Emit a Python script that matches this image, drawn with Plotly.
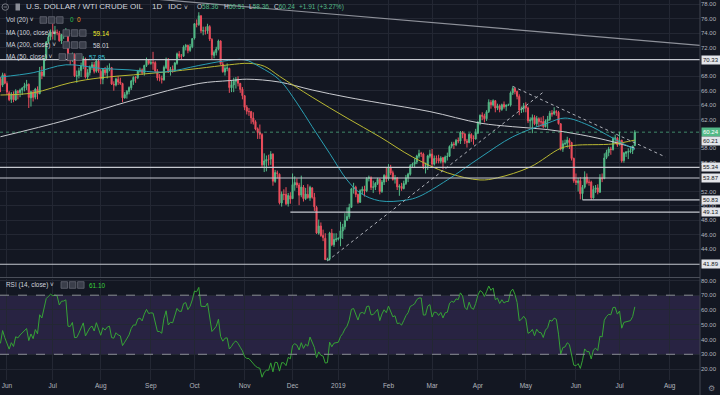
import plotly.graph_objects as go
import pandas as pd
import numpy as np

# ---------------- DATA ----------------
# daily bars, every weekday 2018-05-29 .. 2019-07-10
opens = [
    67.60, 66.80, 68.20,
    67.00, 65.70, 64.80, 65.50, 64.70, 65.90, 65.75, 66.10, 66.40, 66.65, 66.90, 65.00, 65.80, 65.10, 66.20, 65.60, 68.60, 68.10, 70.50, 72.80, 73.50,
    74.10, 73.90, 74.10, 74.00, 72.90, 73.80, 73.90, 74.00, 70.40, 70.30, 71.00, 68.00, 68.10, 68.80, 69.50, 70.40, 67.90, 68.50, 69.30, 69.60, 68.70, 70.10,
    68.70, 67.60, 68.90, 68.50, 69.00, 69.20, 66.90, 66.80, 67.60, 67.20, 67.00, 65.00, 65.50, 65.90, 66.40, 67.30, 67.90, 67.80, 68.70, 68.90, 68.50, 69.50, 70.20,
    69.80, 69.90, 69.90, 68.70, 67.80, 67.70, 67.50, 69.20, 70.40, 68.60, 69.00, 68.90, 69.80, 71.10, 70.80, 70.80, 72.10, 72.30, 71.60, 72.10,
    73.30, 75.30, 75.20, 76.40, 74.30, 74.30, 74.30, 74.90, 73.10, 70.90, 71.30, 71.80, 72.90, 69.70, 68.60, 69.10, 69.10, 66.40, 66.80, 67.30, 67.60, 67.00, 66.20,
    65.30, 63.70, 63.10, 63.10, 62.20, 61.70, 60.70, 60.20, 59.90, 55.70, 56.20, 56.50, 56.50, 57.20, 53.40, 54.60, 54.40, 50.40, 51.60, 51.60, 50.30, 51.40,
    51.00, 52.90, 53.20, 52.90, 51.50, 52.60, 51.00, 51.60, 51.10, 52.50, 51.20, 49.80, 46.20, 47.20, 45.90, 45.50, 42.50, 42.60, 46.20, 44.60, 45.30,
    45.40, 45.50, 46.50, 47.10, 48.00, 48.50, 49.80, 52.40, 52.60, 51.60, 50.50, 52.10, 52.30, 52.10, 53.80, 53.90, 52.60, 52.60, 53.10, 53.70, 52.00, 53.30, 54.20,
    53.80, 55.30, 54.60, 53.70, 53.90, 52.60, 52.70, 52.40, 53.10, 53.90, 54.40, 55.60, 55.80, 56.10, 56.90, 57.30, 57.20, 55.50, 55.50, 56.90,
    57.20, 55.80, 56.60, 56.60, 56.20, 56.70, 56.10, 56.80, 56.90, 58.30, 58.60, 58.50, 59.10, 59.00, 60.20, 60.00, 59.00, 58.80, 59.90, 59.40, 59.30,
    60.10, 61.60, 62.60, 62.50, 62.10, 63.10, 64.40, 64.00, 64.60, 63.60, 63.90, 63.40, 64.10, 63.80, 64.00, 64.00, 65.70, 66.30, 65.90, 65.20, 63.30, 63.50,
    63.90, 63.60, 61.80, 61.90, 62.30, 61.40, 62.10, 61.70, 61.70, 61.00, 61.80, 62.00, 62.90, 62.80, 63.10, 63.00, 61.40, 57.90, 58.60, 58.70, 59.10, 58.80, 56.60,
    53.50, 53.20, 53.50, 51.70, 52.60, 54.00, 53.30, 53.30, 51.10, 52.30, 52.50, 51.90, 53.90, 53.80, 56.70, 57.40, 57.90, 57.80, 59.40, 59.40,
    58.50, 59.10, 56.30, 57.30, 57.50, 57.50, 57.70, 58.36,
]
highs = [
    67.90, 68.50, 68.45,
    67.30, 65.95, 65.80, 65.90, 66.20, 66.10, 66.30, 66.50, 67.10, 67.50, 67.00, 66.00, 66.10, 66.40, 66.60, 69.30, 69.40, 70.60, 72.90, 74.00, 74.50,
    75.30, 75.00, 74.50, 74.30, 73.90, 74.40, 74.70, 74.10, 70.90, 71.30, 71.20, 68.80, 69.20, 69.90, 70.80, 70.60, 69.00, 69.50, 70.00, 70.00, 70.30, 70.40,
    69.00, 69.10, 69.30, 69.50, 69.80, 69.30, 67.30, 67.80, 68.00, 67.80, 67.10, 65.80, 66.10, 66.60, 67.50, 68.00, 68.00, 68.90, 69.20, 69.10, 69.60, 70.60, 70.30,
    70.30, 71.40, 70.10, 69.00, 68.30, 68.10, 69.50, 70.60, 70.50, 69.30, 69.50, 70.00, 71.30, 71.50, 71.10, 72.30, 72.50, 72.40, 72.50, 73.30,
    75.40, 75.90, 76.90, 76.50, 74.90, 74.90, 75.30, 75.10, 73.30, 71.60, 72.10, 73.10, 73.00, 70.00, 69.50, 69.80, 69.20, 67.40, 67.80, 67.90, 68.00, 67.10, 66.50,
    65.40, 64.00, 63.60, 63.20, 63.00, 61.90, 60.90, 61.30, 60.10, 57.30, 57.00, 57.10, 57.60, 57.30, 55.00, 54.90, 54.50, 52.00, 52.30, 52.60, 51.80, 51.90,
    54.50, 54.10, 53.80, 53.20, 54.20, 52.90, 52.50, 53.00, 52.80, 52.60, 51.80, 50.00, 48.10, 47.70, 46.70, 46.20, 42.80, 46.40, 46.80, 46.20, 46.20,
    45.60, 47.80, 47.50, 49.00, 49.80, 50.30, 52.50, 53.20, 52.80, 51.70, 52.30, 52.70, 52.80, 54.00, 54.20, 54.10, 53.50, 53.30, 53.90, 53.80, 53.60, 54.40, 55.40,
    55.80, 55.70, 54.90, 54.30, 54.00, 53.00, 53.20, 53.50, 54.30, 54.60, 55.80, 56.00, 56.60, 57.10, 57.80, 57.50, 57.40, 56.00, 57.10, 57.80,
    57.90, 57.00, 57.00, 57.10, 56.90, 56.80, 57.00, 57.40, 58.40, 58.90, 58.90, 59.30, 59.50, 60.40, 60.40, 60.10, 59.30, 60.10, 60.10, 59.80, 60.70,
    61.80, 62.70, 63.00, 62.80, 63.30, 64.80, 64.70, 64.80, 64.70, 64.20, 64.10, 64.20, 64.50, 64.10, 64.20, 65.90, 66.60, 66.40, 66.00, 65.50, 63.80, 64.30,
    64.40, 63.80, 62.30, 62.70, 62.60, 62.50, 62.30, 62.30, 62.50, 62.00, 62.50, 63.20, 63.30, 63.70, 63.30, 63.20, 61.50, 59.10, 59.20, 59.60, 59.40, 58.90, 56.70,
    54.50, 53.90, 54.00, 52.90, 54.80, 54.50, 53.70, 53.50, 52.80, 52.90, 53.00, 54.40, 54.50, 57.30, 57.80, 58.20, 58.20, 59.60, 59.90, 59.60,
    60.30, 59.20, 57.50, 57.60, 58.00, 58.20, 58.30, 60.51,
]
lows = [
    65.80, 66.50, 66.90,
    65.40, 64.55, 64.30, 64.40, 64.60, 64.80, 65.10, 65.40, 65.90, 66.10, 63.60, 63.80, 64.50, 64.80, 64.80, 65.50, 67.60, 67.90, 70.30, 72.50, 73.00,
    73.10, 73.00, 73.70, 72.80, 72.50, 73.20, 73.60, 70.10, 69.60, 70.00, 67.90, 67.10, 67.70, 67.90, 69.00, 67.70, 67.60, 68.10, 68.90, 68.40, 68.50, 68.50,
    66.90, 66.90, 68.10, 67.70, 68.70, 66.80, 66.00, 66.60, 66.80, 66.80, 64.40, 64.90, 64.90, 65.50, 66.10, 66.80, 67.10, 67.60, 68.50, 68.20, 68.10, 69.30, 69.60,
    69.60, 68.90, 68.50, 67.40, 67.30, 67.00, 67.40, 69.00, 68.50, 68.10, 68.50, 68.60, 69.60, 70.50, 70.30, 70.70, 71.60, 71.20, 71.40, 71.90,
    73.10, 74.80, 75.00, 74.00, 73.70, 73.80, 73.90, 72.90, 70.40, 70.50, 70.90, 71.60, 69.60, 68.50, 68.10, 68.70, 65.70, 65.80, 65.80, 66.30, 66.60, 65.70, 64.80,
    63.30, 62.70, 62.50, 61.40, 61.30, 60.50, 59.30, 59.30, 55.30, 54.70, 54.80, 55.60, 55.70, 52.80, 53.20, 53.80, 50.20, 49.90, 50.80, 50.10, 49.90, 50.30,
    51.00, 52.10, 52.50, 50.10, 51.20, 50.60, 50.80, 51.00, 50.70, 51.00, 49.30, 46.10, 46.00, 45.70, 45.10, 42.50, 42.36, 42.40, 44.40, 44.30, 45.00,
    45.20, 44.40, 45.40, 46.70, 47.90, 48.20, 49.70, 51.70, 51.20, 50.30, 50.40, 51.60, 51.30, 51.90, 53.40, 52.20, 51.80, 52.20, 52.90, 51.60, 51.80, 52.90, 53.30,
    53.50, 54.30, 53.50, 53.10, 52.20, 51.40, 52.10, 52.30, 52.90, 53.30, 54.20, 55.40, 55.40, 55.80, 56.60, 56.80, 55.10, 54.50, 55.00, 56.60,
    55.40, 55.60, 55.90, 55.90, 55.90, 55.10, 55.90, 56.30, 56.80, 58.00, 57.90, 58.30, 58.70, 58.60, 59.40, 58.60, 58.10, 58.70, 58.90, 58.50, 59.20,
    60.00, 61.20, 61.90, 61.60, 61.80, 62.90, 63.50, 63.80, 63.00, 63.30, 63.00, 63.20, 63.50, 63.20, 63.90, 63.80, 65.40, 65.50, 64.80, 62.60, 62.90, 63.00,
    63.00, 61.50, 60.90, 60.10, 61.20, 61.00, 60.90, 61.00, 60.80, 60.90, 60.70, 61.80, 62.40, 62.60, 62.50, 61.30, 57.70, 57.50, 58.40, 58.10, 57.90, 56.30, 53.20,
    52.90, 52.00, 50.90, 50.85, 52.40, 53.00, 52.80, 50.83, 51.00, 51.80, 51.60, 51.80, 53.30, 53.70, 56.50, 56.90, 57.10, 57.70, 58.80, 58.20,
    58.40, 56.00, 56.00, 56.80, 56.50, 57.30, 57.20, 58.36,
]
closes = [
    66.73, 68.21, 67.04,
    65.81, 64.75, 65.52, 64.73, 65.95, 65.74, 66.10, 66.36, 66.64, 66.89, 65.06, 65.85, 65.07, 66.22, 65.54, 68.58, 68.08, 70.53, 72.76, 73.45, 74.15,
    73.94, 74.14, 74.05, 72.94, 73.80, 73.85, 74.11, 70.38, 70.33, 71.01, 68.06, 68.08, 68.76, 69.46, 70.46, 67.89, 68.52, 69.30, 69.61, 68.69, 70.13, 68.76,
    67.66, 68.96, 68.49, 69.01, 69.17, 66.94, 66.81, 67.63, 67.20, 67.04, 65.01, 65.46, 65.91, 66.43, 67.35, 67.86, 67.83, 68.72, 68.87, 68.53, 69.51, 70.25, 69.80,
    69.90, 69.87, 68.72, 67.77, 67.75, 67.54, 69.25, 70.37, 68.59, 68.99, 68.91, 69.85, 71.12, 70.80, 70.78, 72.08, 72.28, 71.57, 72.12, 73.25,
    75.30, 75.23, 76.41, 74.33, 74.34, 74.29, 74.96, 73.17, 70.97, 71.34, 71.78, 72.92, 69.75, 68.65, 69.12, 69.17, 66.43, 66.82, 67.33, 67.59, 67.04, 66.18, 65.31,
    63.69, 63.14, 63.10, 62.21, 61.67, 60.67, 60.19, 59.93, 55.69, 56.25, 56.46, 56.46, 57.20, 53.43, 54.63, 54.50, 50.42, 51.63, 51.56, 50.29, 51.45, 50.93,
    52.95, 53.25, 52.89, 51.49, 52.61, 51.00, 51.65, 51.15, 52.58, 51.20, 49.88, 46.24, 47.20, 45.88, 45.59, 42.53, 42.60, 46.22, 44.61, 45.33, 45.41,
    45.50, 46.54, 47.09, 47.96, 48.52, 49.78, 52.36, 52.59, 51.59, 50.51, 52.11, 52.31, 52.07, 53.80, 53.95, 52.57, 52.62, 53.13, 53.69, 51.99, 53.31, 54.23, 53.79,
    55.26, 54.56, 53.66, 53.86, 52.64, 52.72, 52.41, 53.10, 53.90, 54.41, 55.59, 55.80, 56.09, 56.92, 57.26, 57.26, 55.48, 55.50, 56.94, 57.22,
    55.80, 56.59, 56.56, 56.22, 56.66, 56.07, 56.79, 56.87, 58.26, 58.61, 58.52, 59.09, 59.03, 60.23, 59.98, 59.04, 58.82, 59.94, 59.41, 59.30, 60.14,
    61.59, 62.58, 62.46, 62.10, 63.08, 64.40, 64.04, 64.61, 63.58, 63.89, 63.40, 64.05, 63.76, 64.00, 64.00, 65.70, 66.30, 65.89, 65.21, 63.30, 63.50, 63.91,
    63.60, 61.81, 61.94, 62.25, 61.40, 62.12, 61.70, 61.66, 61.04, 61.78, 62.02, 62.87, 62.76, 63.10, 62.99, 61.42, 57.91, 58.63, 58.70, 59.14, 58.81, 56.59, 53.50,
    53.25, 53.48, 51.68, 52.59, 53.99, 53.26, 53.27, 51.14, 52.28, 52.51, 51.93, 53.90, 53.76, 56.65, 57.43, 57.90, 57.83, 59.38, 59.43, 58.47,
    59.09, 56.25, 57.34, 57.50, 57.51, 57.66, 58.33, 60.24,
]
# closes before the visible window (only used to seed the RSI)
warmup_closes = [66.22, 66.52, 68.47, 68.29, 68.38, 68.64, 67.70, 68.05, 68.19, 68.10, 68.57,
                 67.25, 67.93, 68.43, 69.72, 70.73, 69.06, 71.14, 71.36, 70.70, 70.96, 71.31,
                 71.49, 71.49, 71.28, 72.24, 72.13, 71.84, 70.71, 67.88, 67.50]

# moving averages (bar index, value)
ma50_idx = [0, 15, 30, 46, 59, 75, 91, 102, 112, 119, 128, 136, 143, 151, 159, 165, 174, 186, 192, 205, 220, 235, 251, 259, 269, 278, 284, 291]
ma50_val = [67.9, 68.5, 69.6, 69.1, 68.9, 68.6, 69.5, 70.1, 70.3, 69.3, 67.5, 64.3, 61.0, 57.3, 53.6, 51.8, 50.7, 50.8, 51.3, 53.6, 56.7, 59.6, 61.5, 62.2, 61.3, 59.9, 58.9, 57.85]
ma100_idx = [0, 15, 32, 46, 61, 76, 91, 105, 114, 121, 128, 143, 159, 174, 189, 205, 220, 228, 243, 257, 263, 281, 291]
ma100_val = [65.4, 65.7, 67.1, 67.8, 68.2, 68.6, 69.1, 69.6, 69.8, 69.4, 68.0, 65.1, 62.2, 59.6, 56.8, 54.6, 53.6, 53.9, 55.4, 58.0, 58.4, 58.6, 59.14]
ma200_idx = [0, 30, 61, 91, 105, 113, 128, 143, 159, 174, 197, 220, 235, 251, 266, 281, 291]
ma200_val = [59.6, 61.9, 64.7, 67.0, 67.4, 67.6, 67.2, 66.1, 65.1, 64.3, 63.1, 61.5, 61.0, 60.6, 59.9, 58.9, 58.01]

# drawn levels and trend lines
full_levels = [70.33, 55.34, 53.87, 41.89]
ray_levels = [49.13, 50.83]
ray_start_idx = [133, 267]
last_price = 60.24
trend_up_idx, trend_up_val = [150, 249], [42.36, 65.8]
trend_dn_idx, trend_dn_val = [235, 305], [66.6, 56.8]
long_line_idx, long_line_val = [70, 321], [78.75, 72.3]

price_ticks = [40, 44, 46, 48, 50, 52, 56, 58, 62, 64, 66, 68, 72, 74, 76, 78]
rsi_ticks = [20, 30, 40, 50, 60, 70, 80]
axis_labels = ["70.33", "60.24", "60.21", "55.34", "53.87", "50.83", "49.13", "41.89"]
axis_label_vals = [70.33, 60.24, 59.0, 55.34, 53.87, 50.83, 49.13, 41.89]

# ---------------- BUILD ----------------
dates = pd.bdate_range("2018-05-29", "2019-07-10")
n = len(dates)
for nm, arr in (("opens", opens), ("highs", highs), ("lows", lows), ("closes", closes)):
    assert len(arr) == n, f"{nm} has {len(arr)} values, expected {n}"
x = np.arange(n)

allc = pd.Series(warmup_closes + closes)
d = allc.diff()
up = d.clip(lower=0)
dn = (-d).clip(lower=0)
au = up.ewm(alpha=1 / 14, adjust=False).mean()
ad = dn.ewm(alpha=1 / 14, adjust=False).mean()
rsi = (100 - 100 / (1 + au / ad)).iloc[len(warmup_closes):].to_numpy()

ext = pd.bdate_range("2018-05-29", "2019-08-30")
tick_idx, tick_txt = [], []
prev = None
for i, dd in enumerate(ext):
    key = (dd.year, dd.month)
    if prev is not None and key != prev:
        tick_idx.append(i)
        tick_txt.append("2019" if dd.month == 1 else dd.strftime("%b"))
    prev = key

BG = "#131722"
GRID = "#232733"
TXT = "#b2b5be"
WHITE = "#d1d4dc"
UP = "#53b987"
DOWN = "#eb4d5c"
LEVEL = "#c5c8cf"
FONT = "Liberation Sans, Arial, sans-serif"

W, H_PLOT = 700.0, 380.0
XR = [-0.2, 320.9]

fig = go.Figure()
fig.add_trace(go.Candlestick(
    x=x, open=opens, high=highs, low=lows, close=closes,
    increasing=dict(line=dict(color=UP, width=1), fillcolor=UP),
    decreasing=dict(line=dict(color=DOWN, width=1), fillcolor=DOWN),
    whiskerwidth=0, hoverinfo="skip", xaxis="x", yaxis="y"))

for idx, val, col in ((ma200_idx, ma200_val, "#c9cbd0"),
                      (ma100_idx, ma100_val, "#b9b832"),
                      (ma50_idx, ma50_val, "#2a9fb3")):
    fig.add_trace(go.Scatter(x=idx, y=val, mode="lines",
                             line=dict(color=col, width=1, shape="spline", smoothing=1),
                             hoverinfo="skip", xaxis="x", yaxis="y"))

for lv, s in zip(ray_levels, ray_start_idx):
    fig.add_trace(go.Scatter(x=[s, XR[1]], y=[lv, lv], mode="lines",
                             line=dict(color=LEVEL, width=1.2), hoverinfo="skip"))
for ix, iv in ((trend_up_idx, trend_up_val), (trend_dn_idx, trend_dn_val)):
    fig.add_trace(go.Scatter(x=ix, y=iv, mode="lines",
                             line=dict(color="#aeb1b9", width=1, dash="dot"), hoverinfo="skip"))
fig.add_trace(go.Scatter(x=long_line_idx, y=long_line_val, mode="lines",
                         line=dict(color="#8e919a", width=1.2), hoverinfo="skip"))

fig.add_trace(go.Scatter(x=x, y=rsi, mode="lines", line=dict(color="#36a336", width=1),
                         hoverinfo="skip", xaxis="x2", yaxis="y2"))

shapes = []
for lv in full_levels:
    shapes.append(dict(type="line", xref="paper", yref="y", x0=0, x1=1, y0=lv, y1=lv,
                       line=dict(color=LEVEL, width=1.2)))
shapes.append(dict(type="line", xref="paper", yref="y", x0=0, x1=1, y0=last_price, y1=last_price,
                   line=dict(color="rgba(83,185,135,0.7)", width=1, dash="dot")))
shapes.append(dict(type="rect", xref="paper", yref="y2", x0=0, x1=1, y0=30, y1=70,
                   fillcolor="rgba(126,87,194,0.2)", line=dict(width=0), layer="below"))
for lv in (70, 30):
    shapes.append(dict(type="line", xref="paper", yref="y2", x0=0, x1=1, y0=lv, y1=lv,
                       line=dict(color="#8a8d96", width=1, dash="dash")))
# pane divider and price-scale border
shapes.append(dict(type="line", xref="paper", yref="paper", x0=0, x1=1,
                   y0=1 - 277.5 / H_PLOT, y1=1 - 277.5 / H_PLOT, line=dict(color="#4a4e59", width=1)))
shapes.append(dict(type="line", xref="paper", yref="paper", x0=1, x1=1, y0=-0.045, y1=1,
                   line=dict(color="#434651", width=1)))


def px(xp):
    return xp / W


def py(yp):
    return 1 - yp / H_PLOT


def boxes(x0, yc):
    for k in range(3):
        bx = x0 + k * 8.3
        shapes.append(dict(type="rect", xref="paper", yref="paper",
                           x0=px(bx), x1=px(bx + 6.5), y0=py(yc + 3.3), y1=py(yc - 3.3),
                           fillcolor="#3a3e4a", line=dict(color="#6b6f7a", width=0.7)))


anns = []


def ann(xp, yp, text, color=WHITE, size=6.4):
    anns.append(dict(xref="paper", yref="paper", x=px(xp), y=py(yp), text=text, showarrow=False,
                     xanchor="left", yanchor="middle", font=dict(family=FONT, size=size, color=color)))


# header
shapes.append(dict(type="circle", xref="paper", yref="paper", x0=px(2), x1=px(8.5), y0=py(10.3), y1=py(3.8),
                   line=dict(color="#8a8d96", width=0.8)))
shapes.append(dict(type="line", xref="paper", yref="paper", x0=px(3.6), x1=px(6.9), y0=py(7), y1=py(7),
                   line=dict(color="#8a8d96", width=0.8)))
shapes.append(dict(type="rect", xref="paper", yref="paper", x0=px(15.5), x1=px(20), y0=py(10.5), y1=py(3.5),
                   fillcolor="#8a8d96", line=dict(width=0)))
ann(24, 7, "U.S. DOLLAR / WTI CRUDE OIL", WHITE, 8)
ann(150, 7, "1D", WHITE, 8)
ann(166, 7, "IDC", WHITE, 8)
ann(182, 7.5, "˅", WHITE, 6.5)
for xp, lab, val in ((195, "O", "58.36"), (222, "H", "60.51"), (247, "L", "58.36"), (272, "C", "60.24")):
    ann(xp, 7, f'<span style="color:{WHITE}">{lab}</span><span style="color:{UP}">{val}</span>', UP, 6.5)
ann(297, 7, "+1.91 (+3.27%)", UP, 6.5)

ann(4, 20, "Vol (20) ˅", WHITE)
boxes(40, 20)
ann(68, 20, "0", "#26c250")
ann(75, 20, "0", "#f79a28")
ann(4, 33, "MA (100, close) ˅", WHITE)
boxes(63, 33)
ann(91, 33, "59.14", "#f0ee2e")
ann(4, 45, "MA (200, close) ˅", WHITE)
boxes(63, 45)
ann(91, 45, "58.01", WHITE)
ann(4, 57, "MA (50, close) ˅", WHITE)
boxes(59, 57)
ann(87, 57, "57.85", "#3dc6da")
ann(4, 285, "RSI (14, close) ˅", WHITE)
boxes(61, 285)
ann(87, 285, "61.10", "#39d23a")

# price-scale labels
for lab, val in zip(axis_labels, axis_label_vals):
    green = lab == "60.24"
    anns.append(dict(xref="paper", yref="y", x=1, y=val, text=lab, showarrow=False,
                     xanchor="left", yanchor="middle", xshift=1,
                     bgcolor=UP if green else "#e3e5ea", borderpad=1,
                     font=dict(family=FONT, size=6, color="#ffffff" if green else "#131722")))
anns.append(dict(xref="paper", yref="paper", x=px(711), y=py(388.5), text="⚙", showarrow=False,
                 xanchor="center", yanchor="middle", font=dict(family="DejaVu Sans", size=8, color="#8a8d96")))

fig.update_layout(
    template="none",
    width=720, height=395, margin=dict(l=0, r=20, t=0, b=15, autoexpand=False),
    paper_bgcolor=BG, plot_bgcolor=BG, showlegend=False,
    font=dict(family=FONT, color=TXT, size=6),
    shapes=shapes, annotations=anns,
    xaxis=dict(domain=[0, 1], anchor="y", range=XR, tickvals=tick_idx, showticklabels=False,
               showgrid=True, gridcolor=GRID, gridwidth=1, zeroline=False, showline=False,
               rangeslider=dict(visible=False), fixedrange=True, automargin=False),
    xaxis2=dict(domain=[0, 1], anchor="y2", range=XR, tickvals=tick_idx, ticktext=tick_txt,
                tickfont=dict(family=FONT, size=6.5, color=TXT), showgrid=True, gridcolor=GRID,
                gridwidth=1, zeroline=False, showline=False, ticks="", ticklen=0,
                fixedrange=True, automargin=False),
    yaxis=dict(domain=[1 - 277 / H_PLOT, 1], side="right", anchor="x", range=[40.12, 78.6],
               tickvals=price_ticks, tickformat=".2f", showgrid=True, gridcolor=GRID,
               gridwidth=1, zeroline=False, showline=False, ticks="", ticklen=0,
               tickfont=dict(family=FONT, size=6, color=TXT), fixedrange=True, automargin=False),
    yaxis2=dict(domain=[0, 1 - 278.5 / H_PLOT], side="right", anchor="x2", range=[12.6, 81.3],
                tickvals=rsi_ticks, tickformat=".2f", showgrid=True, gridcolor=GRID,
                gridwidth=1, zeroline=False, showline=False, ticks="", ticklen=0,
                tickfont=dict(family=FONT, size=6, color=TXT), fixedrange=True, automargin=False),
)

fig.write_html("out.html", config={"displayModeBar": False, "staticPlot": True},
               post_script="document.body.style.margin='0px';document.body.style.background='#131722';")
